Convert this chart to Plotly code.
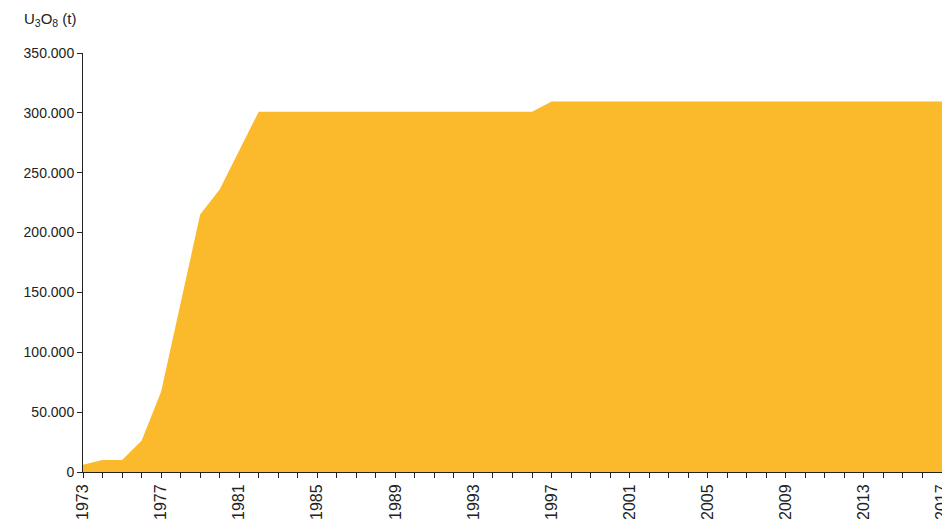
import plotly.graph_objects as go

# Kumulierte Uranproduktion
years = list(range(1973, 2018))
tonnes = [6000, 10000, 10000, 26000, 67000, 141000, 215000, 236000, 268500, 301000,
          301000, 301000, 301000, 301000, 301000, 301000, 301000, 301000, 301000, 301000,
          301000, 301000, 301000, 301000, 309500, 309500, 309500, 309500, 309500, 309500,
          309500, 309500, 309500, 309500, 309500, 309500, 309500, 309500, 309500, 309500,
          309500, 309500, 309500, 309500, 309500]

fig = go.Figure()
fig.add_trace(go.Scatter(
    x=years, y=tonnes, mode='lines', fill='tozeroy',
    fillcolor='#FBBA2B', line=dict(width=0, color='#FBBA2B'),
    hoverinfo='x+y'
))

# die Seite hat 8px Rand, daher etwas kleiner
fig.update_layout(
    width=942, height=511,
    margin=dict(l=75, r=8, t=45, b=47),
    plot_bgcolor='white', paper_bgcolor='white',
    font=dict(family='Liberation Sans, Arial, sans-serif', size=14, color='#222'),
    separators=',.',
    showlegend=False,
    xaxis=dict(
        range=[1973, 2017], tick0=1973, dtick=4, tickangle=-90,
        tickfont=dict(size=16), ticklabeloverflow='allow',
        showgrid=False, zeroline=False, automargin=False,
        showline=True, linecolor='#222', linewidth=1,
        ticks='outside', ticklen=5, tickcolor='#222',
        minor=dict(dtick=1, tick0=1973, ticks='outside', ticklen=5, tickcolor='#222', showgrid=False),
    ),
    yaxis=dict(
        range=[0, 350000], dtick=50000, tickformat=',d',
        showgrid=False, zeroline=False, automargin=False,
        showline=True, linecolor='#222', linewidth=1,
        ticks='outside', ticklen=5, tickcolor='#222',
    ),
    annotations=[dict(
        text='U<sub>3</sub>O<sub>8</sub> (t)', xref='paper', yref='paper',
        x=-0.071, y=1.079, xanchor='left', yanchor='middle', showarrow=False,
        font=dict(size=15)
    )],
)

fig.write_html("out.html")
